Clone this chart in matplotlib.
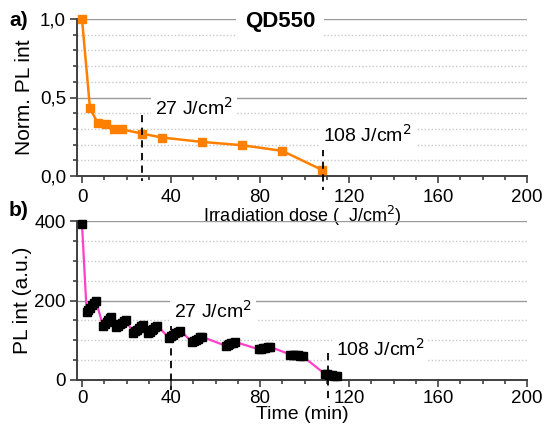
import matplotlib
matplotlib.use("Agg")
import matplotlib.pyplot as plt
from matplotlib.ticker import MultipleLocator, FuncFormatter

plt.rcParams['font.family'] = ['Liberation Sans', 'DejaVu Sans']

# (a) normalised PL vs irradiation dose
dose = [0, 3.6, 7.2, 10.8, 14.4, 18, 27, 36, 54, 72, 90, 108]
norm_pl = [1.0, 0.43, 0.335, 0.33, 0.30, 0.297, 0.27, 0.245, 0.217, 0.196, 0.16, 0.038]

# (b) PL intensity vs time (runs of points during each exposure)
time_min = [0,
            2.1, 2.9, 3.7, 4.5, 5.3, 6.2,
            9.5, 10.3, 11.1, 11.8, 12.5, 13.2,
            15.5, 16.3, 17.1, 18.0, 18.9, 19.8,
            23.0, 23.8, 24.6, 25.5, 26.4, 27.2,
            29.7, 30.5, 31.3, 32.1, 32.9, 33.8,
            39.2, 40.1, 41.0, 41.9, 43.0, 44.2,
            49.6, 50.4, 51.2, 52.0, 52.9, 53.8,
            64.6, 65.4, 66.2, 67.0, 67.8, 68.7,
            79.6, 80.5, 81.5, 82.4, 83.4, 84.3,
            93.6, 94.7, 95.8, 96.9, 98.0, 99.1,
            109.0, 110.1, 111.2, 112.3, 113.4, 114.5]
pl_int = [392,
          170, 176, 182, 188, 194, 200,
          135, 141, 146, 151, 155, 159,
          133, 137, 141, 144, 148, 151,
          118, 123, 127, 131, 135, 138,
          117, 122, 126, 129, 133, 136,
          106, 110, 114, 117, 121, 124,
          95, 98, 101, 104, 107, 109,
          86, 88, 90, 92, 94, 96,
          77, 78, 80, 81, 83, 84,
          64, 63, 63, 62, 61, 60,
          16, 15, 13, 12, 11, 10]

orange = "#ff8000"
pink = "#ff40c8"
axc = "#404040"

fig = plt.figure(figsize=(5.45, 4.26), dpi=100)
ax1 = fig.add_axes([77 / 545, 1 - 176 / 426, 450 / 545, 157 / 426])
ax2 = fig.add_axes([77 / 545, 1 - 380 / 426, 450 / 545, 159 / 426])
ax2.patch.set_visible(False)


def style(ax, ymaj, ymin):
    for s in ("top", "right"):
        ax.spines[s].set_visible(False)
    for s in ("left", "bottom"):
        ax.spines[s].set_color(axc)
        ax.spines[s].set_linewidth(1.4)
    ax.set_xlim(-2.25, 200)
    ax.xaxis.set_major_locator(MultipleLocator(40))
    ax.xaxis.set_minor_locator(MultipleLocator(10))
    ax.yaxis.set_major_locator(MultipleLocator(ymaj))
    ax.yaxis.set_minor_locator(MultipleLocator(ymin))
    ax.tick_params(which="both", direction="out", color=axc, width=1.2, labelsize=13.5)
    ax.tick_params(which="major", length=5)
    ax.tick_params(which="minor", length=3)
    ax.tick_params(axis="x", pad=4)
    ax.tick_params(axis="y", pad=3)
    ax.grid(axis="y", which="major", color="#9a9a9a", lw=1.0, ls="-")
    ax.grid(axis="y", which="minor", color="#c8c8c8", lw=1.0, ls=(0, (1, 1.5)))
    ax.set_axisbelow(True)


style(ax1, 0.5, 0.1)
ax1.set_ylim(0, 1.0)
ax1.yaxis.set_major_formatter(FuncFormatter(lambda v, p: f"{v:.1f}".replace(".", ",")))
ax1.plot(dose, norm_pl, color=orange, lw=1.8, marker="s", ms=6, mec=orange,
         clip_on=False, zorder=3)
ax1.set_ylabel("Norm. PL int", fontsize=15, labelpad=4)
ax1.set_xlabel("Irradiation dose (  J/cm$^2$)", fontsize=13, labelpad=-1)

style(ax2, 200, 50)
ax2.set_ylim(0, 400)
ax2.tick_params(axis="x", pad=2.5)
ax2.plot(time_min, pl_int, color=pink, lw=1.6, zorder=2, clip_on=False)
ax2.plot(time_min, pl_int, ls="none", marker="s", ms=5.5, color="black",
         clip_on=False, zorder=3)
ax2.set_ylabel("PL int (a.u.)", fontsize=15, labelpad=2)
ax2.set_xlabel("Time (min)", fontsize=14, labelpad=-1)

dash = dict(color="black", lw=1.3, ls=(0, (4, 3)), clip_on=False, zorder=4)
ax1.plot([27, 27], [0.39, -0.03], **dash)
ax1.plot([108.3, 108.3], [0.17, -0.09], **dash)
ax2.plot([40, 40], [143, -25], **dash)
ax2.plot([110.7, 110.7], [68, -50], **dash)

box = dict(facecolor="white", edgecolor="none", pad=3)
ax1.text(33, 0.39, "27 J/cm$^2$", fontsize=14, va="baseline", bbox=box, zorder=5)
ax1.text(108.5, 0.215, "108 J/cm$^2$", fontsize=14, va="baseline", bbox=box, zorder=5)
ax2.text(41.3, 156, "27 J/cm$^2$", fontsize=14, va="baseline", bbox=box, zorder=5)
ax2.text(114, 60, "108 J/cm$^2$", fontsize=14, va="baseline", bbox=box, zorder=5)

ax1.text(89, 0.985, "QD550", fontsize=16, fontweight="bold", ha="center", va="center",
         bbox=dict(facecolor="white", edgecolor="none", pad=6), zorder=5)

fig.text(19 / 545, 1 - 21 / 426, "a)", fontsize=15, fontweight="bold", ha="center", va="center")
fig.text(19 / 545, 1 - 210 / 426, "b)", fontsize=15, fontweight="bold", ha="center", va="center")

fig.savefig("out.png", dpi=100)
